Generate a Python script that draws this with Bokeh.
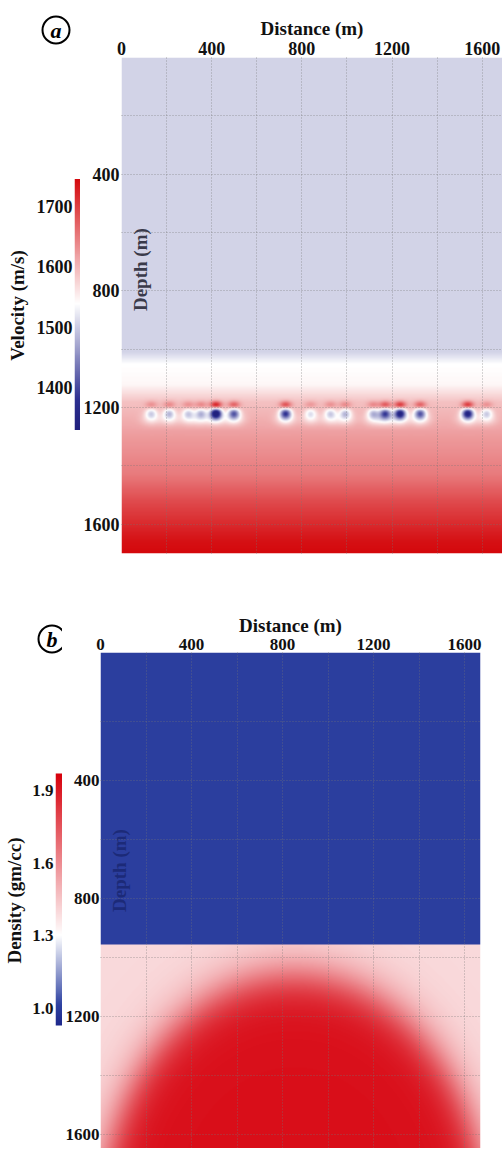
import numpy as np
from bokeh.plotting import figure
from bokeh.models import Range1d, LinearColorMapper, Label, FixedTicker, PrintfTickFormatter, Title
from bokeh.layouts import row, column
from bokeh.embed import file_html
from bokeh.resources import INLINE

# ---------------- data ----------------
distance_ticks = [0, 400, 800, 1200, 1600]
depth_ticks = [400, 800, 1200, 1600]
grid_ticks = [200, 400, 600, 800, 1000, 1200, 1400, 1600]
velocity_ticks = [1400, 1500, 1600, 1700]
density_ticks = [1.0, 1.3, 1.6, 1.9]

# panel a: velocity model (m/s)
vel_profile_depth = [0, 1010, 1050, 1120, 1180, 1310, 1430, 1520, 1660, 1700]
vel_profile_value = [1505, 1505, 1538, 1545, 1590, 1624, 1649, 1688, 1738, 1745]
anomaly_x = [132, 212, 296, 353, 419, 499, 728, 839, 927, 993, 1117, 1170, 1236, 1325, 1536, 1620]
anomaly_strength = [0.3, 0.35, 0.3, 0.35, 1.0, 0.6, 0.7, 0.25, 0.3, 0.35, 0.35, 0.65, 0.85, 0.6, 0.85, 0.3]
anomaly_depth = 1218
velocity_limits = [1330, 1745]

# panel b: density model (gm/cc)
water_bottom_b = 955
density_water = 1.0
density_sediment = 1.4
density_dome = 1.93
dome_center = [850, 1900]
dome_axes = [847, 840]
density_limits = [0.93, 1.97]

FONT = "Liberation Serif"


def make_palette(stops, n=256):
    cols = []
    for i in range(n):
        f = i / (n - 1)
        for (f0, c0), (f1, c1) in zip(stops[:-1], stops[1:]):
            if f0 <= f <= f1:
                t = (f - f0) / (f1 - f0)
                cols.append("#%02x%02x%02x" % tuple(int(round(c0[k] + (c1[k] - c0[k]) * t)) for k in range(3)))
                break
    return cols


fa = (1538 - velocity_limits[0]) / (velocity_limits[1] - velocity_limits[0])
pal_a = make_palette([(0, (32, 32, 125)), (0.12, (45, 48, 145)), (fa, (255, 255, 255)), (1, (212, 8, 12))])
fb = (1.30 - density_limits[0]) / (density_limits[1] - density_limits[0])
pal_b = make_palette([(0, (30, 40, 140)), (0.08, (46, 66, 162)), (fb, (255, 255, 255)), (1, (215, 0, 12))])
map_a = LinearColorMapper(palette=pal_a, low=velocity_limits[0], high=velocity_limits[1])
map_b = LinearColorMapper(palette=pal_b, low=density_limits[0], high=density_limits[1])

# ---------------- panel a field ----------------
XA, ZA = 1690.0, 1700.0
nxa, nza = 381, 498
xa = (np.arange(nxa) + 0.5) * XA / nxa
za = (np.arange(nza) + 0.5) * ZA / nza
X, Z = np.meshgrid(xa, za)
V = np.interp(Z, vel_profile_depth, vel_profile_value)
for xb, s in zip(anomaly_x, anomaly_strength):
    dx2 = (X - xb) ** 2
    V = V - 280 * s * np.exp(-dx2 / (2 * 18 ** 2) - (Z - anomaly_depth) ** 2 / (2 * 13 ** 2))
    V = V + 150 * s * np.exp(-dx2 / (2 * 18 ** 2) - (Z - (anomaly_depth - 28)) ** 2 / (2 * 9 ** 2))
    V = V - 60 * min(1.0, 0.4 + s) * np.exp(-dx2 / (2 * 30 ** 2) - (Z - (anomaly_depth + 20)) ** 2 / (2 * 15 ** 2))
V = np.clip(V, velocity_limits[0], velocity_limits[1])

# ---------------- panel b field ----------------
XB, ZB0, ZB1 = 1670.0, -34.0, 1647.0
nxb, nzb = 380, 496
xb_ = (np.arange(nxb) + 0.5) * XB / nxb
zb_ = ZB0 + (np.arange(nzb) + 0.5) * (ZB1 - ZB0) / nzb
XB2, ZB2 = np.meshgrid(xb_, zb_)
R = np.sqrt(((XB2 - dome_center[0]) / dome_axes[0]) ** 2 + ((ZB2 - dome_center[1]) / dome_axes[1]) ** 2)
D = density_sediment + (density_dome - density_sediment) / (1 + np.exp((R - 1) / 0.055))
D[ZB2 < water_bottom_b] = density_water


def style_axis(ax, tick_size="18px"):
    ax.major_label_text_font = FONT
    ax.major_label_text_font_style = "bold"
    ax.major_label_text_font_size = tick_size
    ax.major_label_text_color = "#111111"
    ax.axis_label_text_font = FONT
    ax.axis_label_text_font_style = "bold"
    ax.axis_label_text_font_size = "19px"
    ax.axis_label_text_color = "#111111"
    ax.axis_line_color = None
    ax.major_tick_line_color = None
    ax.minor_tick_line_color = None
    ax.major_tick_out = 0
    ax.major_tick_in = 0
    ax.minor_tick_out = 0
    ax.minor_tick_in = 0


def style_grid(p):
    p.xgrid.ticker = FixedTicker(ticks=grid_ticks)
    p.ygrid.ticker = FixedTicker(ticks=[-g for g in grid_ticks])
    p.grid.grid_line_color = "#777777"
    p.grid.grid_line_alpha = 0.6
    p.grid.grid_line_dash = "1 2"
    p.grid.grid_line_width = 1
    p.grid.level = "overlay"


def circled_title(letter, offset, standoff):
    t = Title(text=letter, align="left", offset=offset, text_font=FONT, text_font_style="bold italic",
              text_font_size="22px", text_color="black", border_line_color="black",
              border_line_width=2, border_radius=14, padding=(8, 1))
    try:
        t.standoff = standoff
    except Exception:
        t.standoff = 0
    return t


common = dict(output_backend="svg", toolbar_location=None)

# screen geometry of the colour bars (pixels) -> value ranges of their frames
A_TOP, A_BOT, A_BAR_TOP, A_BAR_BOT = 55, 553, 177, 429
B_TOP, B_BOT, B_BAR_TOP, B_BAR_BOT = 652, 1148, 773, 1025
ka = (velocity_limits[1] - velocity_limits[0]) / (A_BAR_BOT - A_BAR_TOP)
cb_a_range = (velocity_limits[0] - (A_BOT - A_BAR_BOT) * ka, velocity_limits[1] + (A_BAR_TOP - A_TOP) * ka)
kb = (density_limits[1] - density_limits[0]) / (B_BAR_BOT - B_BAR_TOP)
cb_b_range = (density_limits[0] - (B_BOT - B_BAR_BOT) * kb, density_limits[1] + (B_BAR_TOP - B_TOP) * kb)

# ---------------- colorbar a ----------------
cb_a = figure(width=80, height=558, x_range=Range1d(0, 1), y_range=Range1d(*cb_a_range),
              x_axis_location=None, y_axis_location="left",
              min_border_left=74, min_border_right=0, min_border_top=55, min_border_bottom=5, **common)
cb_a.image(image=[np.linspace(velocity_limits[0], velocity_limits[1], 256).reshape(-1, 1)],
           x=0, y=velocity_limits[0], dw=1, dh=velocity_limits[1] - velocity_limits[0], color_mapper=map_a)
cb_a.grid.visible = False
cb_a.outline_line_color = None
cb_a.yaxis.ticker = FixedTicker(ticks=velocity_ticks)
cb_a.yaxis.axis_label = "Velocity (m/s)"
style_axis(cb_a.yaxis[0])
cb_a.yaxis.major_label_standoff = 2
cb_a.yaxis.axis_label_standoff = 6
cb_a.add_layout(circled_title("a", -32, 28), "above")

# ---------------- panel a ----------------
pa = figure(width=422, height=558, x_range=Range1d(0, XA), y_range=Range1d(-ZA, 0),
            x_axis_location="above", y_axis_location="left",
            min_border_left=41, min_border_right=0, min_border_top=55, min_border_bottom=5, **common)
pa.image(image=[V[::-1]], x=0, y=-ZA, dw=XA, dh=ZA, color_mapper=map_a)
pa.outline_line_color = None
pa.xaxis.ticker = FixedTicker(ticks=distance_ticks)
pa.xaxis.axis_label = "Distance (m)"
pa.yaxis.ticker = FixedTicker(ticks=[-d for d in depth_ticks])
pa.yaxis.major_label_overrides = {-d: str(d) for d in depth_ticks}
style_axis(pa.xaxis[0])
style_axis(pa.yaxis[0])
pa.xaxis.major_label_standoff = 3
pa.xaxis.axis_label_standoff = 0
pa.yaxis.major_label_standoff = 2
style_grid(pa)
pa.add_layout(Label(x=84, y=-727, text="Depth (m)", angle=np.pi / 2, text_font=FONT,
                    text_font_style="bold", text_font_size="19px", text_color="#3a3a4a",
                    text_align="center", text_baseline="middle"))

# ---------------- colorbar b ----------------
cb_b = figure(width=62, height=590, x_range=Range1d(0, 1), y_range=Range1d(*cb_b_range),
              x_axis_location=None, y_axis_location="left",
              min_border_left=55, min_border_right=0, min_border_top=94, min_border_bottom=0, **common)
cb_b.image(image=[np.linspace(density_limits[0], density_limits[1], 256).reshape(-1, 1)],
           x=0, y=density_limits[0], dw=1, dh=density_limits[1] - density_limits[0], color_mapper=map_b)
cb_b.grid.visible = False
cb_b.outline_line_color = None
cb_b.yaxis.ticker = FixedTicker(ticks=density_ticks)
cb_b.yaxis.formatter = PrintfTickFormatter(format="%.1f")
cb_b.yaxis.axis_label = "Density (gm/cc)"
style_axis(cb_b.yaxis[0], "17px")
cb_b.yaxis.major_label_standoff = 2
cb_b.yaxis.axis_label_standoff = 4
cb_b.add_layout(circled_title("b", -17, 0), "above")

# ---------------- panel b ----------------
pb = figure(width=440, height=590, x_range=Range1d(0, XB), y_range=Range1d(-ZB1, -ZB0),
            x_axis_location="above", y_axis_location="left",
            min_border_left=38, min_border_right=22, min_border_top=94, min_border_bottom=0, **common)
pb.image(image=[D[::-1]], x=0, y=-ZB1, dw=XB, dh=ZB1 - ZB0, color_mapper=map_b)
pb.outline_line_color = None
pb.xaxis.ticker = FixedTicker(ticks=distance_ticks)
pb.xaxis.axis_label = "Distance (m)"
pb.yaxis.ticker = FixedTicker(ticks=[-d for d in depth_ticks])
pb.yaxis.major_label_overrides = {-d: str(d) for d in depth_ticks}
style_axis(pb.xaxis[0], "17px")
style_axis(pb.yaxis[0], "17px")
pb.xaxis.major_label_standoff = 3
pb.xaxis.axis_label_standoff = 0
pb.yaxis.major_label_standoff = 1
style_grid(pb)
pb.add_layout(Label(x=84, y=-705, text="Depth (m)", angle=np.pi / 2, text_font=FONT,
                    text_font_style="bold", text_font_size="19px", text_color="#1c2a78",
                    text_align="center", text_baseline="middle"))

layout = column(row(cb_a, pa), row(cb_b, pb))
open("out.html", "w").write(file_html(layout, INLINE))
